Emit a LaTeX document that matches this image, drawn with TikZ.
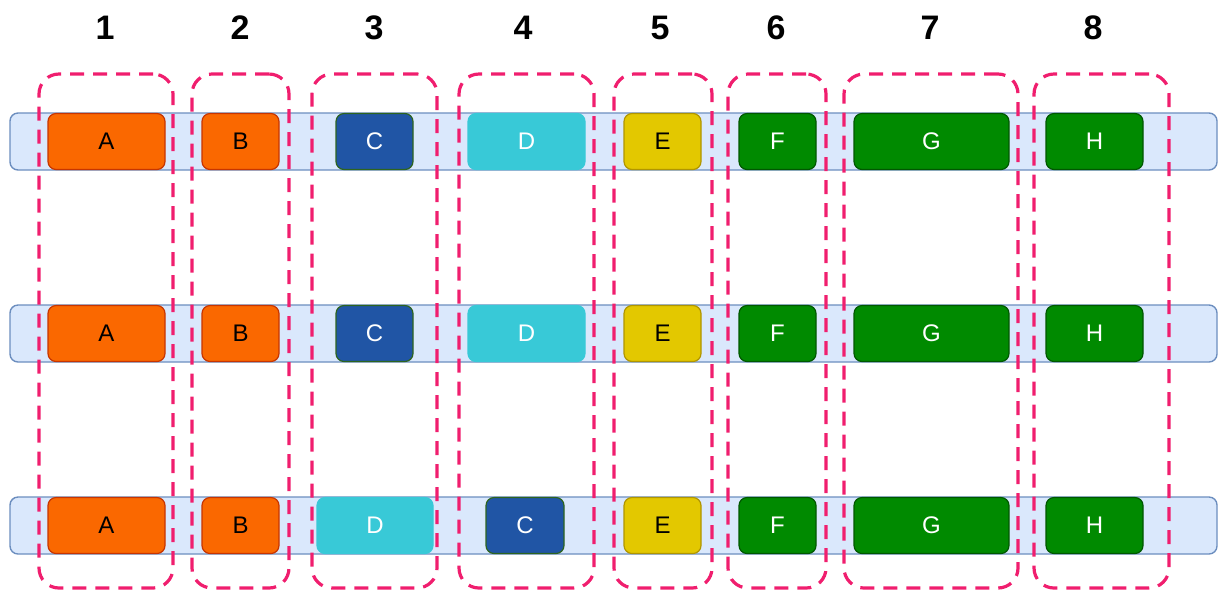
\documentclass[tikz,border=0pt]{standalone}
\usepackage{fontspec}
\setmainfont{Liberation Sans}
\usepackage{tikz}
\usetikzlibrary{positioning}
\definecolor{bandblue}{RGB}{218, 232, 252}
\definecolor{bandedge}{RGB}{108, 142, 191}
\definecolor{orangefill}{RGB}{250, 104, 0}
\definecolor{orangeedge}{RGB}{199, 53, 0}
\definecolor{navyfill}{RGB}{32, 85, 165}
\definecolor{navyedge}{RGB}{45, 100, 30}
\definecolor{cyanfill}{RGB}{56, 201, 215}
\definecolor{yellowfill}{RGB}{227, 200, 0}
\definecolor{yellowedge}{RGB}{176, 149, 0}
\definecolor{greenfill}{RGB}{0, 138, 0}
\definecolor{greenedge}{RGB}{0, 87, 0}
\definecolor{grppink}{RGB}{240, 30, 110}

\begin{document}
\begin{tikzpicture}[x=0.5pt, y=-0.5pt,
    band/.style={draw=bandedge, fill=bandblue, line width=0.7pt, rounded corners=4pt,
        minimum width=603.5pt, minimum height=28.5pt, inner sep=0pt},
    box/.style={rounded corners=4pt, line width=0.6pt, minimum height=28pt, inner sep=0pt,
        font=\fontsize{12}{14}\selectfont},
    orangebox/.style={box, draw=orangeedge, fill=orangefill, text=black},
    navybox/.style={box, draw=navyedge, fill=navyfill, text=white},
    cyanbox/.style={box, draw=cyanfill, fill=cyanfill, text=white},
    yellowbox/.style={box, draw=yellowedge, fill=yellowfill, text=black},
    greenbox/.style={box, draw=greenedge, fill=greenfill, text=white},
    grp/.style={draw=grppink, line width=1.6pt, dash pattern=on 7pt off 4.5pt,
        rounded corners=10pt, minimum height=257pt, inner sep=0pt},
    colnum/.style={font=\fontsize{17}{20}\selectfont\bfseries}]
    \useasboundingbox (0,0) rectangle (1218,591);

    % Bands with the common boxes
    \foreach \r/\y in {1/141.5, 2/333.5, 3/525.5} {
        \node[band] (band\r) at (613.5,\y) {};
        \node[orangebox, minimum width=58.5pt] (a\r) at (106.5,\y) {A};
        \node[orangebox, minimum width=38.5pt] (b\r) at (240.5,\y) {B};
        \node[yellowbox, minimum width=38.5pt] (e\r) at (662.5,\y) {E};
        \node[greenbox, minimum width=38.5pt] (f\r) at (777.5,\y) {F};
        \node[greenbox, minimum width=77.5pt] (g\r) at (931.5,\y) {G};
        \node[greenbox, minimum width=48.5pt] (h\r) at (1094.5,\y) {H};
    }

    % C and D, swapped in the last row
    \node[navybox, minimum width=38.5pt] (c1) at (374.5,141.5) {C};
    \node[cyanbox, minimum width=58.5pt] (d1) at (526.5,141.5) {D};
    \node[navybox, minimum width=38.5pt] (c2) at (374.5,333.5) {C};
    \node[cyanbox, minimum width=58.5pt] (d2) at (526.5,333.5) {D};
    \node[cyanbox, minimum width=58pt] (d3) at (375,525.5) {D};
    \node[navybox, minimum width=39pt] (c3) at (525,525.5) {C};

    % Column groups and their numbers
    \foreach \i/\x/\w/\nx in {1/106/67/105, 2/240.5/48.5/240, 3/374.5/62.5/374,
        4/526.5/67.5/523, 5/663/49/660, 6/777/49/776, 7/931/87/930, 8/1101.5/67.5/1093} {
        \node[grp, minimum width=\w pt] (grp\i) at (\x,331) {};
        \node[colnum] (num\i) at (\nx,28) {\i};
    }
\end{tikzpicture}
\end{document}
